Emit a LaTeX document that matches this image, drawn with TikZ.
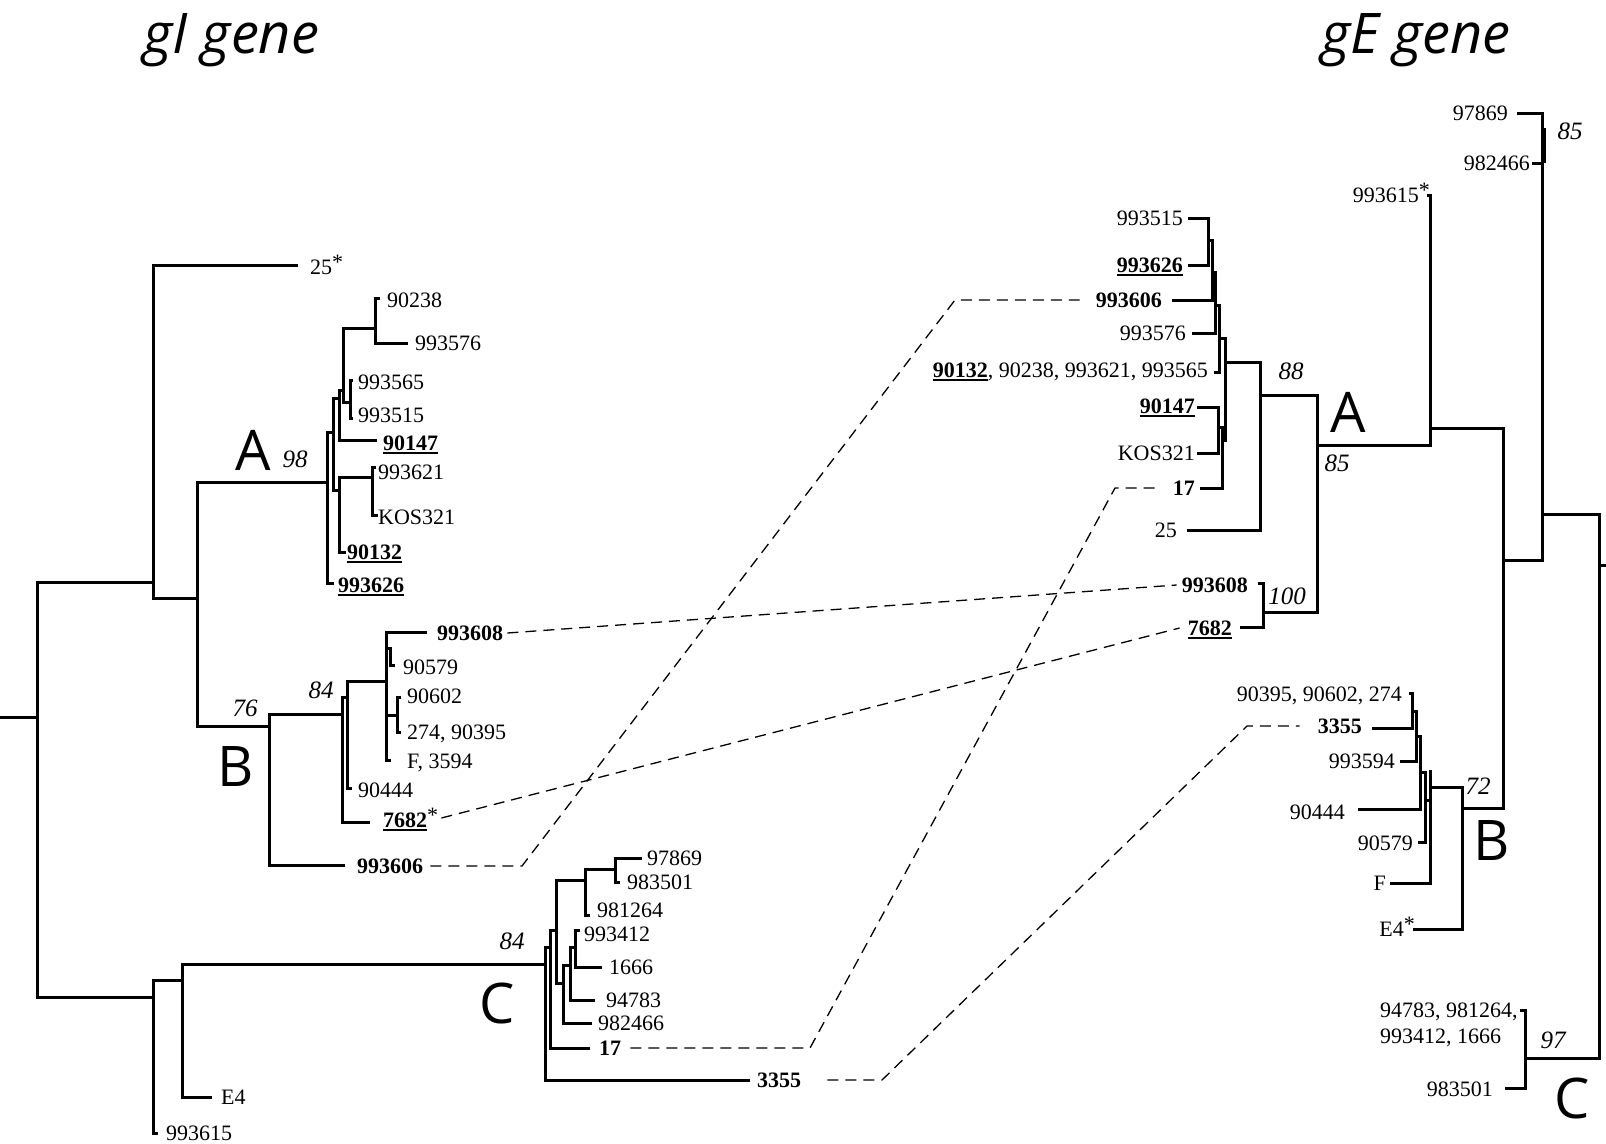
\documentclass[tikz,border=0pt]{standalone}
\usepackage{fontspec}
\setmainfont{Liberation Serif}
\newfontfamily\sansf{Open Sans}
\newcommand\myul[1]{\leavevmode\vtop{\hbox{#1}\kern2pt\hrule height 1.8pt}}
\newcommand\myast{\raisebox{5pt}{*}}
\begin{document}
\begin{tikzpicture}[x=1pt,y=-1pt,
  br/.style={line width=3pt},
  dl/.style={line width=1.3pt,dash pattern=on 11pt off 7pt},
  lab/.style={inner sep=0pt,font=\fontsize{22}{26}\selectfont},
  gl/.style={lab,anchor=base west},
  gr/.style={lab,anchor=base east},
  bs/.style={inner sep=0pt,font=\fontsize{25}{30}\selectfont\itshape},
  big/.style={inner sep=0pt,font=\sansf\fontsize{56}{60}\selectfont},
  ttl/.style={inner sep=0pt,anchor=base west,font=\sansf\itshape\fontsize{56}{60}\selectfont}]
\useasboundingbox (0,0) rectangle (1606,1143);

% titles
\node[ttl] (t1) at (143,53) {gI gene};
\node[ttl] (t2) at (1321,53) {gE gene};

% ---------------- gI tree ----------------
\draw[br] (0,717) -- (37,717);
\draw[br] (153,582) -- (37,582) -- (37,997) -- (153,997);
\draw[br] (298,265) -- (153,265) -- (153,598) -- (197,598);
\draw[br] (327,482) -- (197,482) -- (197,726) -- (269,726);
\draw[br] (342,714) -- (269,714) -- (269,865) -- (345,865);
% clade A
\draw[br] (333,432) -- (327,432) -- (327,583) -- (334,583);
\draw[br] (339,398) -- (333,398) -- (333,490) -- (339,490);
\draw[br] (372,477) -- (339,477) -- (339,552) -- (346,552);
\draw[br] (376,467) -- (372,467) -- (372,515) -- (378,515);
\draw[br] (343,390) -- (339,390) -- (339,440) -- (377,440);
\draw[br] (375,328) -- (343,328) -- (343,402) -- (350,402);
\draw[br] (353,380) -- (350,380) -- (350,418) -- (353,418);
\draw[br] (380,298) -- (375,298) -- (375,343) -- (408,343);
% clade B
\draw[br] (347,697) -- (342,697) -- (342,822) -- (370,822);
\draw[br] (386,681) -- (347,681) -- (347,788) -- (352,788);
\draw[br] (427,632) -- (386,632) -- (386,760) -- (391,760);
\draw[br] (386,648) -- (390,648) -- (390,665) -- (395,665);
\draw[br] (401,697) -- (397,697) -- (397,732) -- (401,732);
\draw[br] (386,715) -- (397,715);
% clade C
\draw[br] (182,980) -- (153,980) -- (153,1133) -- (158,1133);
\draw[br] (545,964) -- (182,964) -- (182,1097) -- (212,1097);
\draw[br] (550,947) -- (545,947) -- (545,1080) -- (750,1080);
\draw[br] (556,930) -- (550,930) -- (550,1048) -- (590,1048);
\draw[br] (585,880) -- (556,880) -- (556,983) -- (563,983);
\draw[br] (615,869) -- (585,869) -- (585,915) -- (590,915);
\draw[br] (642,858) -- (615,858) -- (615,882) -- (620,882);
\draw[br] (570,965) -- (563,965) -- (563,1023) -- (592,1023);
\draw[br] (575,947) -- (570,947) -- (570,1000) -- (595,1000);
\draw[br] (580,930) -- (575,930) -- (575,967) -- (602,967);

% gI labels
\node[gl] (L25) at (310,274) {25\myast};
\node[gl] (L90238) at (387,307) {90238};
\node[gl] (L993576) at (415,350) {993576};
\node[gl] (L993565) at (358,389) {993565};
\node[gl] (L993515) at (358,422) {993515};
\node[gl] (L90147) at (383,450) {\myul{\textbf{90147}}};
\node[gl] (L993621) at (378,479) {993621};
\node[gl] (LKOS321) at (378,524) {KOS321};
\node[gl] (L90132) at (347,559) {\myul{\textbf{90132}}};
\node[gl] (L993626) at (338,592) {\myul{\textbf{993626}}};
\node[gl] (L993608) at (437,640) {\textbf{993608}};
\node[gl] (L90579) at (403,674) {90579};
\node[gl] (L90602) at (407,703) {90602};
\node[gl] (L274) at (407,739) {274, 90395};
\node[gl] (LF) at (407,768) {F, 3594};
\node[gl] (L90444) at (358,797) {90444};
\node[gl] (L7682) at (383,827) {\myul{\textbf{7682}}\myast};
\node[gl] (L993606) at (357,873) {\textbf{993606}};
\node[gl] (L97869) at (647,865) {97869};
\node[gl] (L983501) at (627,889) {983501};
\node[gl] (L981264) at (597,917) {981264};
\node[gl] (L993412) at (584,941) {993412};
\node[gl] (L1666) at (609,974) {1666};
\node[gl] (L94783) at (606,1007) {94783};
\node[gl] (L982466) at (598,1030) {982466};
\node[gl] (L17) at (599,1055) {\textbf{17}};
\node[gl] (L3355) at (757,1087) {\textbf{3355}};
\node[gl] (LE4) at (221,1104) {E4};
\node[gl] (L993615) at (166,1140) {993615};

\node[bs] (s98) at (295,459) {98};
\node[bs] (s76) at (245,708) {76};
\node[bs] (s84a) at (321,690) {84};
\node[bs] (s84b) at (512,941) {84};
\node[big] (cA1) at (253,450) {A};
\node[big] (cB1) at (236,767) {B};
\node[big] (cC1) at (497,1003) {C};

% ---------------- gE tree ----------------
\draw[br] (1543,514) -- (1599,514) -- (1599,1058) -- (1525,1058);
\draw[br] (1599,565) -- (1606,565);
\draw[br] (1517,113) -- (1542,113) -- (1542,560) -- (1503,560);
\draw[br] (1532,163) -- (1542,163);
\draw[line width=2pt] (1545,128) -- (1545,163);
\draw[br] (1427,195) -- (1430,195) -- (1430,445) -- (1317,445);
\draw[br] (1430,428) -- (1503,428) -- (1503,808) -- (1462,808);
\draw[br] (1260,395) -- (1317,395) -- (1317,612) -- (1263,612);
\draw[br] (1258,583) -- (1263,583) -- (1263,627) -- (1240,627);
\draw[br] (1225,362) -- (1260,362) -- (1260,530) -- (1187,530);
\draw[br] (1188,218) -- (1208,218) -- (1208,265) -- (1188,265);
\draw[br] (1208,240) -- (1212,240) -- (1212,300) -- (1172,300);
\draw[br] (1212,272) -- (1215,272) -- (1215,333) -- (1192,333);
\draw[br] (1215,305) -- (1219,305) -- (1219,372) -- (1214,372);
\draw[br] (1219,338) -- (1225,338) -- (1225,440) -- (1222,440);
\draw[br] (1197,407) -- (1218,407) -- (1218,453) -- (1197,453);
\draw[br] (1218,427) -- (1222,427) -- (1222,488) -- (1200,488);
% clade B
\draw[br] (1430,787) -- (1462,787) -- (1462,929) -- (1413,929);
\draw[br] (1409,693) -- (1412,693) -- (1412,728) -- (1372,728);
\draw[br] (1412,711) -- (1416,711) -- (1416,761) -- (1400,761);
\draw[br] (1416,736) -- (1420,736) -- (1420,809) -- (1358,809);
\draw[br] (1420,772) -- (1425,772) -- (1425,842) -- (1418,842);
\draw[br] (1425,800) -- (1430,800);
\draw[br] (1430,770) -- (1430,883) -- (1390,883);
% clade C
\draw[br] (1520,1010) -- (1525,1010) -- (1525,1088) -- (1505,1088);

% gE labels
\node[gr] (R97869) at (1508,120) {97869};
\node[gr] (R982466) at (1530,170) {982466};
\node[gr] (R993615) at (1430,202) {993615\myast};
\node[gr] (R993515) at (1183,225) {993515};
\node[gr] (R993626) at (1183,272) {\myul{\textbf{993626}}};
\node[gr] (R993606) at (1162,307) {\textbf{993606}};
\node[gr] (R993576) at (1186,340) {993576};
\node[gr] (R90132) at (1208,377) {\myul{\textbf{90132}}, 90238, 993621, 993565};
\node[gr] (R90147) at (1195,413) {\myul{\textbf{90147}}};
\node[gr] (RKOS321) at (1195,460) {KOS321};
\node[gr] (R17) at (1195,495) {\textbf{17}};
\node[gr] (R25) at (1177,537) {25};
\node[gr] (R993608) at (1248,592) {\textbf{993608}};
\node[gr] (R7682) at (1232,635) {\myul{\textbf{7682}}};
\node[gr] (R90395) at (1402,701) {90395, 90602, 274};
\node[gr] (R3355) at (1362,733) {\textbf{3355}};
\node[gr] (R993594) at (1395,768) {993594};
\node[gr] (R90444) at (1345,819) {90444};
\node[gr] (R90579) at (1413,850) {90579};
\node[gr] (RF) at (1386,890) {F};
\node[gr] (RE4) at (1415,936) {E4\myast};
\node[lab,anchor=west,align=left] (R94783) at (1380,1025) {94783, 981264,\\993412, 1666};
\node[gr] (R983501) at (1493,1096) {983501};

\node[bs] (s85a) at (1570,131) {85};
\node[bs] (s88) at (1291,371) {88};
\node[bs] (s85b) at (1337,463) {85};
\node[bs] (s100) at (1287,596) {100};
\node[bs] (s72) at (1478,786) {72};
\node[bs] (s97) at (1553,1040) {97};
\node[big] (cA2) at (1348,412) {A};
\node[big] (cB2) at (1492,841) {B};
\node[big] (cC2) at (1572,1098) {C};

% dashed connectors
\coordinate (c1a) at (522,866);
\coordinate (c1b) at (955,300);
\coordinate (c4a) at (810,1048);
\coordinate (c4b) at (1115,488);
\coordinate (c5a) at (882,1080);
\coordinate (c5b) at (1247,726);
\draw[dl] ([xshift=7pt,yshift=7pt]L993606.base east) -- (c1a) -- (c1b) -- ([xshift=-16pt,yshift=7pt]R993606.base west);
\draw[dl] ([xshift=4pt,yshift=7pt]L993608.base east) -- ([xshift=-5pt,yshift=7pt]R993608.base west);
\draw[dl] ([xshift=3pt,yshift=9pt]L7682.base east) -- ([xshift=-8pt,yshift=7pt]R7682.base west);
\draw[dl] ([xshift=9pt,yshift=7pt]L17.base east) -- (c4a) -- (c4b) -- ([xshift=-13pt,yshift=7pt]R17.base west);
\draw[dl] ([xshift=26pt,yshift=7pt]L3355.base east) -- (c5a) -- (c5b) -- ([xshift=-18pt,yshift=7pt]R3355.base west);
\end{tikzpicture}
\end{document}
